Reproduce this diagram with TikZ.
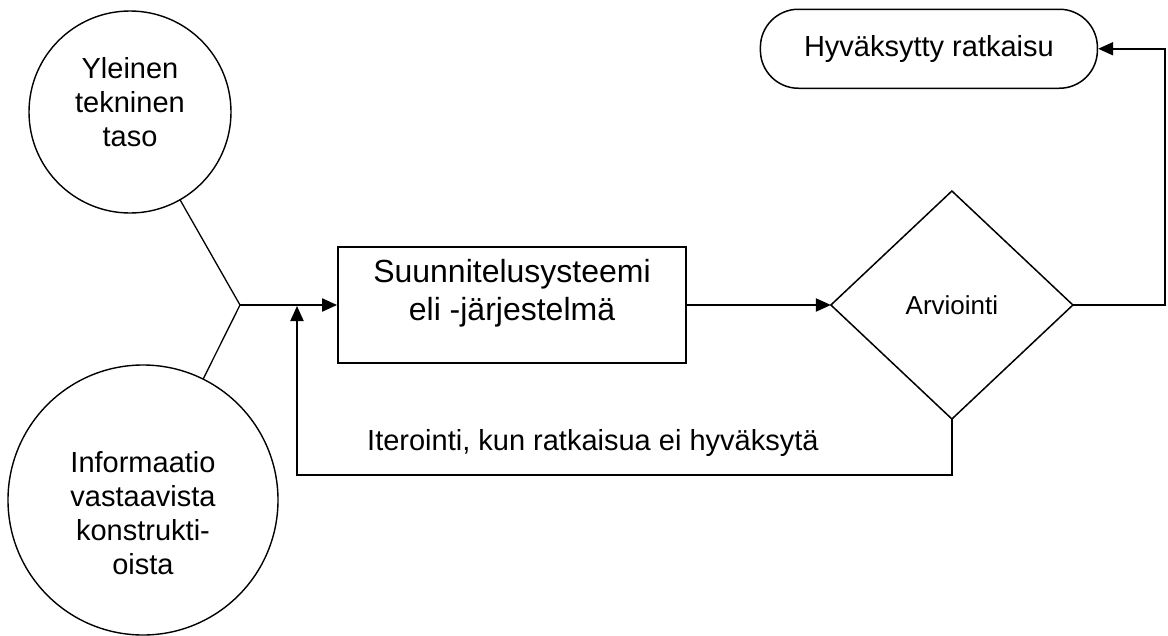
\documentclass[tikz,border=0pt]{standalone}
\usepackage{fontspec}
\setmainfont{Liberation Sans}
\usetikzlibrary{positioning,shapes.geometric,arrows.meta}
\newcommand{\bigtxt}{\fontsize{29}{34}\selectfont}
\newcommand{\smalltxt}{\fontsize{26}{30}\selectfont}
\tikzset{
  source/.style={circle, draw, line width=1.4pt, inner sep=0pt, outer sep=0pt, align=center, font=\bigtxt},
  process/.style={rectangle, draw, line width=1.8pt, minimum width=348pt, minimum height=116pt, align=center, font=\fontsize{32}{38}\selectfont},
  decision/.style={diamond, draw, line width=1.5pt, minimum width=242pt, minimum height=228pt, inner sep=0pt, outer sep=0pt, font=\smalltxt},
  terminal/.style={rectangle, rounded corners=38pt, draw, line width=1.5pt, minimum width=337pt, minimum height=79pt, font=\bigtxt},
  note/.style={font=\bigtxt, inner sep=0pt},
  flow/.style={line width=2pt, -{Triangle[length=15pt,width=13pt]}},
  link/.style={line width=1.3pt},
}

\begin{document}
\begin{tikzpicture}[x=1pt, y=-1pt]
  \useasboundingbox (0,0) rectangle (1168,635);
  % Define nodes
  \node[source, minimum size=202pt, text depth=20pt] (tech) at (130,112) {Yleinen\\tekninen\\taso};
  \node[source, minimum size=270pt, text height=149pt, text depth=0pt] (info) at (143,500) {Informaatio\\vastaavista\\konstrukti-\\oista};
  \node[process, text depth=30pt] (sys) at (512,305) {Suunnitelusysteemi\\eli -järjestelmä};
  \node[decision, right=144pt of sys] (eval) {Arviointi};
  \node[terminal, above=102pt of eval, xshift=-23pt] (ok) {Hyväksytty ratkaisu};
  \node[note, anchor=base west] (iter) at (367,450) {Iterointi, kun ratkaisua ei hyväksytä};
  \coordinate (join) at (240,305);
  \coordinate (back) at (297,306);

  % Connect the nodes
  \draw[link] (tech) -- (join);
  \draw[link] (info) -- (join);
  \draw[flow] (join) -- (sys);
  \draw[flow] (sys) -- (eval);
  \draw[flow] (eval.east) -- ++(92,0) |- (ok);
  \draw[flow] (eval.south) -- ++(0,56) -| (back);
\end{tikzpicture}
\end{document}
